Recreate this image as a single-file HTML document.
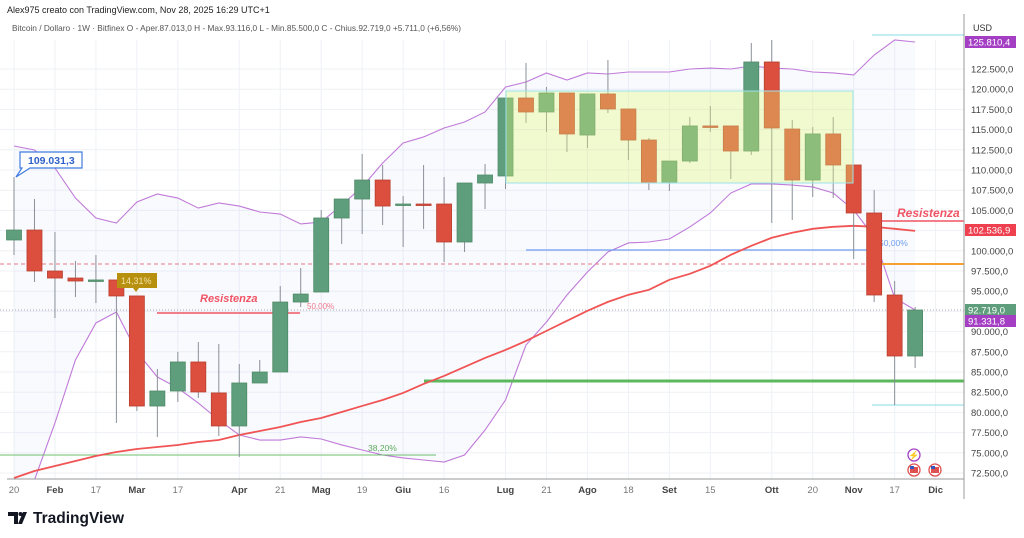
<!DOCTYPE html>
<html><head><meta charset="utf-8">
<style>
html,body{margin:0;padding:0;background:#fff;width:1024px;height:538px;overflow:hidden;font-family:"Liberation Sans",sans-serif;}
svg{position:absolute;left:0;top:0;}
</style></head>
<body>
<svg id="chart" width="1024" height="538" xmlns="http://www.w3.org/2000/svg" font-family="Liberation Sans, sans-serif">
  <text x="7" y="13" font-size="9" fill="#222">Alex975 creato con TradingView.com, Nov 28, 2025 16:29 UTC+1</text>
  <text x="12" y="31" font-size="8.3" fill="#555">Bitcoin / Dollaro · 1W · Bitfinex  O - Aper.87.013,0  H - Max.93.116,0  L - Min.85.500,0  C - Chius.92.719,0  +5.711,0 (+6,56%)</text>
  <g id="grid"></g>
  <g id="bands"></g>
  <g id="lines"></g>
  <g id="candles"></g>
  <g id="overlay"></g>
  <g id="axis"></g>
  <g>
    <path d="M8 512h10v12h-4v-8h-6z" fill="#131722"/>
    <circle cx="20.5" cy="514" r="2" fill="#131722"/>
    <path d="M23 512h4l-5 12h-4z" fill="#131722"/>
    <text x="33" y="523" font-size="15.5" font-weight="bold" fill="#131722">TradingView</text>
  </g>
</svg>
<script>
const dates=["20","Feb","17","Mar","17","Apr","21","Mag","19","Giu","16","Lug","21","Ago","18","Set","15","Ott","20","Nov","17","Dic"];
const dateIdx=[0,2,4,6,8,11,13,15,17,19,21,24,26,28,30,32,34,37,39,41,43,45];
const boldDates=["Feb","Mar","Apr","Mag","Giu","Lug","Ago","Set","Ott","Nov","Dic"];
const yTicks=[72500,75000,77500,80000,82500,85000,87500,90000,92500,95000,97500,100000,102500,105000,107500,110000,112500,115000,117500,120000,122500];
const openV=[101340,102570,97500,96630,96260,96390,94410,80790,82650,86240,82410,78320,83640,85000,93660,94900,104060,106410,108760,105670,105790,105790,101090,108390,109260,118910,117180,119530,114330,119410,117550,113710,108390,111110,115450,115450,112350,123370,115070,108760,114460,110620,104680,94530,86980];
const highV=[109130,106410,102330,98740,99480,96390,94410,85370,87480,88710,88470,85990,86490,95640,97870,105050,106410,111980,110620,106780,110620,109130,108390,110740,118910,123240,120270,119530,119410,123610,117550,113960,111110,116560,117920,115450,125720,126090,116190,115320,116560,110620,107520,96260,93040];
const lowV=[99480,96140,91680,94280,93540,78690,80170,76960,81290,81790,77080,74480,83640,85000,93040,94900,100840,102080,103190,100470,102700,98610,99850,105170,107650,115820,114700,112230,112720,117050,111240,107520,107400,110870,114700,108890,111860,103440,103810,106660,106540,98990,93660,80920,85500];
const closeV=[102570,97500,96630,96260,96390,94410,80790,82650,86240,82530,78320,83640,85000,93660,94650,104060,106410,108760,105540,105790,105670,101090,108390,109380,118910,117180,119530,114460,119410,117550,113710,108390,111110,115450,115400,112350,123370,115200,108760,114460,110620,104680,94530,86980,92670];
const upperBand=[112970,112480,110250,106530,104060,103440,106040,107030,106530,105290,105920,105540,104800,104550,103320,103560,105670,107900,110870,113350,114090,115200,115940,117180,120270,120890,122010,121140,122010,121880,122130,122130,122130,122500,122620,122500,122870,122620,122500,122130,122010,121760,124230,126090,125840];
const lowerBand=[70400,71640,78690,86490,91070,92430,87480,84380,83020,81160,79060,77200,76580,76580,76960,76710,75970,75350,74730,74360,74110,73860,74730,77820,81530,88340,91190,94530,97380,99850,100970,101090,101460,102950,104680,107150,108270,108270,108140,107900,107150,105050,101710,94160,92670];
const maLine=[71880,72750,73370,73990,74610,75100,75470,75720,75970,76340,76580,77200,77700,78190,78810,79310,80050,80800,81540,82410,83520,84510,85630,86740,87730,88850,90090,91330,92570,93680,94550,95170,96410,97150,98140,99500,100620,101610,102230,102720,102970,103090,102970,102720,102470];

const NS="http://www.w3.org/2000/svg";
const X0=14, DX=20.48, PLOT_R=964, PLOT_B=479;
function xAt(i){return X0+DX*i;}
function yAt(v){return 69+(122500-v)*0.00808;}
function mk(parent,tag,attrs){const e=document.createElementNS(NS,tag);for(const k in attrs)e.setAttribute(k,attrs[k]);document.getElementById(parent).appendChild(e);return e;}
function fmt(v){const s=Math.round(v).toString();return s.replace(/\B(?=(\d{3})+(?!\d))/g,".")+",0";}

// grid
yTicks.forEach(v=>{
  const l=mk('grid','line',{x1:0,x2:PLOT_R,y1:yAt(v),y2:yAt(v),stroke:'#eef1f6','stroke-width':1});
  
  
});
dateIdx.forEach(i=>{
  const l=mk('grid','line',{x1:xAt(i),x2:xAt(i),y1:40,y2:PLOT_B,stroke:'#eef1f6','stroke-width':1});
  
  
});

// band fill
let up=upperBand.map((v,i)=>xAt(i)+','+yAt(v));
let lo=lowerBand.map((v,i)=>xAt(i)+','+Math.min(yAt(v),PLOT_B)).reverse();
const bf=mk('bands','polygon',{points:up.concat(lo).join(' '),fill:'rgba(120,140,230,0.045)'});


const ub=mk('bands','polyline',{points:up.join(' '),fill:'none',stroke:'#c07ad8','stroke-width':1.1});


const lb=mk('bands','polyline',{points:lowerBand.map((v,i)=>xAt(i)+','+yAt(v)).join(' '),fill:'none',stroke:'#c07ad8','stroke-width':1.1,'clip-path':'url(#clip)'});


const defs=mk('bands','defs',{});
const cp=document.createElementNS(NS,'clipPath');cp.setAttribute('id','clip');
const cr=document.createElementNS(NS,'rect');cr.setAttribute('x',0);cr.setAttribute('y',38);cr.setAttribute('width',PLOT_R);cr.setAttribute('height',PLOT_B-38);
cp.appendChild(cr);defs.appendChild(cp);

// drawings
function hl(x1,x2,y,col,w,name,dash){const l=mk('lines','line',{x1:x1,x2:x2,y1:y,y2:y,stroke:col,'stroke-width':w});if(dash)l.setAttribute('stroke-dasharray',dash);return l;}
function tx(x,y,s,col,size,name,extra){const t=mk('lines','text',Object.assign({x:x,y:y,fill:col,'font-size':size},extra||{}));t.textContent=s;return t;}
hl(0,PLOT_R,264,'#e57a86',1,'dashed-level','4,3');
hl(0,PLOT_R,310,'#aaa',1,'last-price-dotted','1,2');
hl(0,436,455,'#6cbf6c',1,'fib-38-line');
tx(368,451,'38,20%','#5caa5c',8.5,'fib-38-label');
hl(424,PLOT_R,381,'#5cb85c',3,'support-line');
hl(526,873,250,'#6f9df0',1.2,'fib-50-line');
tx(879,246,'50,00%','#6f9df0',8.5,'fib-50-label');
hl(872,PLOT_R,264,'#f5a030',2,'orange-level');
hl(872,PLOT_R,35,'#9be3ea',1.2,'cyan-top-line');
hl(872,PLOT_R,405,'#9be3ea',1.2,'cyan-bottom-line');
hl(157,300,313,'#f05464',1.6,'resistance-left-line');
tx(200,302,'Resistenza','#f05464',11,'resistance-left-label',{'font-weight':'bold','font-style':'italic'});
tx(307,309,'50,00%','#f07a8a',8,'fib-50-left-label');
hl(875,PLOT_R,221,'#f05464',1.6,'resistance-right-line');
tx(897,217,'Resistenza','#f05464',12,'resistance-right-label',{'font-weight':'bold','font-style':'italic'});

// MA line
const ma=mk('lines','polyline',{points:maLine.map((v,i)=>xAt(i)+','+yAt(v)).join(' '),fill:'none',stroke:'#f05454','stroke-width':1.8,'clip-path':'url(#clip)'});



// candles
for(let i=0;i<openV.length;i++){
  const up=closeV[i]>=openV[i];
  const col=up?'#5f9e7c':'#dc4e3d';
  const x=xAt(i);
  const w=mk('candles','line',{x1:x,x2:x,y1:yAt(highV[i]),y2:yAt(lowV[i]),stroke:'#8a8f98','stroke-width':1});
  
  
  const top=yAt(Math.max(openV[i],closeV[i])),bot=yAt(Math.min(openV[i],closeV[i]));
  const r=mk('candles','rect',{x:x-7.5,y:top,width:15,height:Math.max(bot-top,1.5),fill:col,stroke:up?'#4e8a68':'#b84030','stroke-width':0.8});
  
  
}

// range box overlay
const box=mk('overlay','rect',{x:506,y:91,width:347,height:92,fill:'rgba(225,245,120,0.35)',stroke:'#9be3ea','stroke-width':1});



// callout
const cb=mk('overlay','path',{d:'M20 152h62v16h-52l-14 9 6-9h-2z',fill:'#fff',stroke:'#3f7be0','stroke-width':1.2});


const ct=mk('overlay','text',{x:28,y:164,'font-size':10.5,'font-weight':'bold',fill:'#2f62c8'});
ct.textContent='109.031,3';


const gb=mk('overlay','path',{d:'M117 273h40v15h-18l-3 4-3-4h-16z',fill:'#b8900f'});


const gt=mk('overlay','text',{x:121,y:284,'font-size':9,fill:'#f3e2a8'});
gt.textContent='14,31%';



// axes
const ab=mk('axis','rect',{x:PLOT_R,y:0,width:60,height:538,fill:'#fff'});


const al=mk('axis','line',{x1:PLOT_R,x2:PLOT_R,y1:14,y2:PLOT_B+20,stroke:'#999','stroke-width':1});


const bl=mk('axis','line',{x1:7,x2:PLOT_R,y1:PLOT_B,y2:PLOT_B,stroke:'#999','stroke-width':1});


const usd=mk('axis','text',{x:973,y:31,'font-size':9,fill:'#333'});
usd.textContent='USD';


yTicks.forEach(v=>{
  const t=mk('axis','text',{x:971,y:yAt(v)+3.5,'font-size':9.5,fill:'#444'});
  t.textContent=fmt(v);
  
  
});
dates.forEach((d,k)=>{
  const t=mk('axis','text',{x:xAt(dateIdx[k]),y:493,'font-size':9.5,fill:boldDates.includes(d)?'#444':'#777','text-anchor':'middle','font-weight':boldDates.includes(d)?'bold':'normal'});
  t.textContent=d;
  
  
});
function tag(v,y,col,name){
  const r=mk('axis','rect',{x:965,y:y-6,width:51,height:12,fill:col});
  
  
  const t=mk('axis','text',{x:968,y:y+3.5,'font-size':9.5,fill:'#fff'});
  t.textContent=v;
  
  
}
tag('125.810,4',42,'#a43fc4','upper-band-tag');
tag('102.536,9',230,'#ef4050','ma-tag');
tag('92.719,0',310,'#5f9e7c','last-price-tag');
tag('91.331,8',321,'#a43fc4','lower-band-tag');

// event icons
const e1=mk('axis','circle',{cx:914,cy:455,r:6,fill:'#fff',stroke:'#a43fc4','stroke-width':1.3});


const e1t=mk('axis','text',{x:914,y:458.5,'font-size':9,fill:'#a43fc4','text-anchor':'middle'});
e1t.textContent='⚡';


[914,935].forEach(x=>{
  const c=mk('axis','circle',{cx:x,cy:470,r:6,fill:'#fff',stroke:'#e05050','stroke-width':1.3});
  
  
  const f=mk('axis','rect',{x:x-4,y:467,width:8,height:6,fill:'#e05050'});
  
  
  const b=mk('axis','rect',{x:x-4,y:466,width:4,height:3,fill:'#3358c0'});
  
  
});
</script>
</body></html>
